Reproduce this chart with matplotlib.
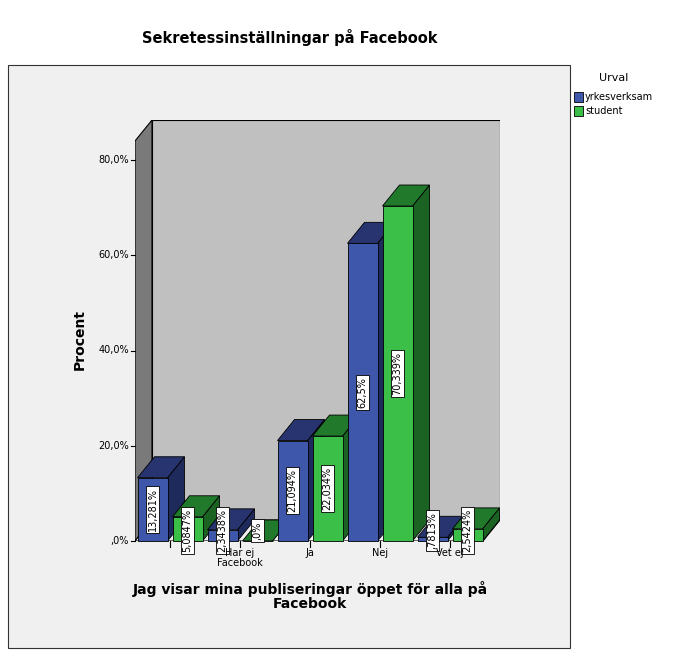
import matplotlib
matplotlib.use("Agg")
import matplotlib.pyplot as plt
from matplotlib.patches import Polygon, Rectangle

categories = ["", "Har ej\nFacebook", "Ja", "Nej", "Vet ej"]
yrkesverksam = [13.281, 2.3438, 21.094, 62.5, 0.7813]
student = [5.0847, 0.0, 22.034, 70.339, 2.5424]
label_y = ["13,281%", "2,3438%", "21,094%", "62,5%", ",7813%"]
label_s = ["5,0847%", ",0%", "22,034%", "70,339%", "2,5424%"]
yticks = [0, 20, 40, 60, 80]
ytick_labels = [",0%", "20,0%", "40,0%", "60,0%", "80,0%"]

W, H = 675, 660
fig = plt.figure(figsize=(6.75, 6.6), dpi=100)
fig.patch.set_facecolor("white")

# outer frame
fig.patches.append(Rectangle((8/W, 1-648/H), (570-8)/W, (648-65)/H, transform=fig.transFigure,
                             facecolor="#f0f0f0", edgecolor="#333333", lw=0.8, zorder=-5))

ax = fig.add_axes([135/W, 1-541/H, (500-135)/W, (541-120)/H])
ax.set_zorder(2)
ax.patch.set_visible(False)
xmin, xmax = -0.5, (500-170)/70
ytop = (541-120)/95.25*20
ax.set_xlim(xmin, xmax)
ax.set_ylim(0, ytop)
ax.axis("off")
dx, dy = 17/70, 21/95.25*20
xfront_r = (483-170)/70

# walls
ax.add_patch(Polygon([(xmin+dx, dy), (xmax, dy), (xmax, ytop), (xmin+dx, ytop)],
                     facecolor="#c0c0c0", edgecolor="black", lw=0.8))
ax.add_patch(Polygon([(xmin, 0), (xmin+dx, dy), (xmin+dx, ytop), (xmin, ytop-dy)],
                     facecolor="#7a7a7a", edgecolor="black", lw=0.8))
ax.add_patch(Polygon([(xmin, 0), (xfront_r, 0), (xmax, dy), (xmin+dx, dy)],
                     facecolor="#f0f0f0", edgecolor="black", lw=0.8))

bw = 30/70
cols = [("#3f57ab", "#27346f", "#1f2a5c"), ("#3bbf48", "#217a2b", "#1a6323")]
for i in range(len(categories)):
    for j, (vals, labs) in enumerate([(yrkesverksam, label_y), (student, label_s)]):
        v = vals[i]
        c = i + (-0.25 if j == 0 else 0.25)
        x0, x1 = c - bw/2, c + bw/2
        face, top, side = cols[j]
        ax.add_patch(Polygon([(x1, 0), (x1+dx, dy), (x1+dx, v+dy), (x1, v)],
                             facecolor=side, edgecolor="black", lw=0.6, clip_on=False))
        ax.add_patch(Polygon([(x0, v), (x1, v), (x1+dx, v+dy), (x0+dx, v+dy)],
                             facecolor=top, edgecolor="black", lw=0.6, clip_on=False))
        ax.add_patch(Rectangle((x0, 0), bw, v, facecolor=face, edgecolor="black", lw=0.6, clip_on=False))
        ly = v/2 if v > 10 else 2.2
        ax.text(c, ly, labs[i], rotation=90, ha="center", va="center", fontsize=7,
                bbox=dict(boxstyle="square,pad=0.2", fc="white", ec="black", lw=0.6), clip_on=False)

# y ticks
for t, lab in zip(yticks, ytick_labels):
    ax.plot([xmin-0.06, xmin], [t, t], color="black", lw=0.8, clip_on=False)
    ax.text(xmin-0.09, t, lab, ha="right", va="center", fontsize=7)
# x ticks
for i, lab in enumerate(categories):
    ax.plot([i, i], [0, -1.2], color="black", lw=0.8, clip_on=False)
    ax.text(i, -1.5, lab, ha="center", va="top", fontsize=7, linespacing=1.0)

fig.text(290/W, 1-38/H, "Sekretessinställningar på Facebook", ha="center", va="center",
         fontsize=10.5, fontweight="bold")
fig.text(80/W, 1-340/H, "Procent", rotation=90, ha="center", va="center", fontsize=10, fontweight="bold")
fig.text(310/W, 1-596/H, "Jag visar mina publiseringar öppet för alla på\nFacebook", ha="center",
         va="center", fontsize=10, fontweight="bold", linespacing=1.0)

# legend
fig.text(614/W, 1-78/H, "Urval", ha="center", va="center", fontsize=8)
for k, (name, c) in enumerate([("yrkesverksam", cols[0][0]), ("student", cols[1][0])]):
    yy = 97 + k*14
    fig.patches.append(Rectangle((574/W, 1-(yy+5)/H), 9/W, 10/H, transform=fig.transFigure,
                                 facecolor=c, edgecolor="black", lw=0.6))
    fig.text(585/W, 1-yy/H, name, ha="left", va="center", fontsize=7)

fig.savefig("out.png", dpi=100)
